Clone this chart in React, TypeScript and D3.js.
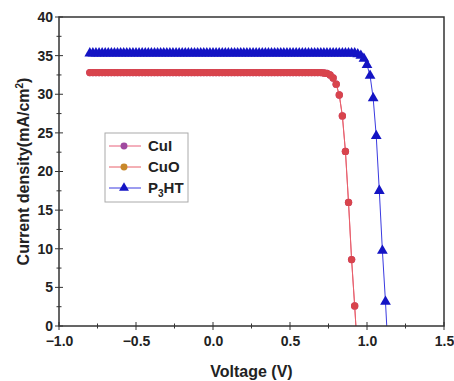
import * as d3 from 'd3';
import { useEffect, useRef } from 'react';

// sweep voltage (V), shared by all three cells
const voltage = [
  -0.80, -0.78, -0.76, -0.74, -0.72, -0.70, -0.68, -0.66, -0.64, -0.62,
  -0.60, -0.58, -0.56, -0.54, -0.52, -0.50, -0.48, -0.46, -0.44, -0.42,
  -0.40, -0.38, -0.36, -0.34, -0.32, -0.30, -0.28, -0.26, -0.24, -0.22,
  -0.20, -0.18, -0.16, -0.14, -0.12, -0.10, -0.08, -0.06, -0.04, -0.02,
  0.00, 0.02, 0.04, 0.06, 0.08, 0.10, 0.12, 0.14, 0.16, 0.18,
  0.20, 0.22, 0.24, 0.26, 0.28, 0.30, 0.32, 0.34, 0.36, 0.38,
  0.40, 0.42, 0.44, 0.46, 0.48, 0.50, 0.52, 0.54, 0.56, 0.58,
  0.60, 0.62, 0.64, 0.66, 0.68, 0.70, 0.72, 0.74, 0.76, 0.78,
  0.80, 0.82, 0.84, 0.86, 0.88, 0.90, 0.92, 0.94, 0.96, 0.98,
  1.00, 1.02, 1.04, 1.06, 1.08, 1.10, 1.12, 1.14,
];

// current density (mA/cm2)
const cuICurrent = [
  32.8, 32.8, 32.8, 32.8, 32.8, 32.8, 32.8, 32.8, 32.8, 32.8,
  32.8, 32.8, 32.8, 32.8, 32.8, 32.8, 32.8, 32.8, 32.8, 32.8,
  32.8, 32.8, 32.8, 32.8, 32.8, 32.8, 32.8, 32.8, 32.8, 32.8,
  32.8, 32.8, 32.8, 32.8, 32.8, 32.8, 32.8, 32.8, 32.8, 32.8,
  32.8, 32.8, 32.8, 32.8, 32.8, 32.8, 32.8, 32.8, 32.8, 32.8,
  32.8, 32.8, 32.8, 32.8, 32.8, 32.8, 32.8, 32.8, 32.8, 32.8,
  32.8, 32.8, 32.8, 32.8, 32.8, 32.8, 32.8, 32.8, 32.8, 32.8,
  32.8, 32.8, 32.8, 32.8, 32.8, 32.8, 32.75, 32.7, 32.5, 32.1,
  31.3, 29.9, 27.2, 22.6, 16.0, 8.6, 2.6, -4.0,
];
const cuOCurrent = [
  32.8, 32.8, 32.8, 32.8, 32.8, 32.8, 32.8, 32.8, 32.8, 32.8,
  32.8, 32.8, 32.8, 32.8, 32.8, 32.8, 32.8, 32.8, 32.8, 32.8,
  32.8, 32.8, 32.8, 32.8, 32.8, 32.8, 32.8, 32.8, 32.8, 32.8,
  32.8, 32.8, 32.8, 32.8, 32.8, 32.8, 32.8, 32.8, 32.8, 32.8,
  32.8, 32.8, 32.8, 32.8, 32.8, 32.8, 32.8, 32.8, 32.8, 32.8,
  32.8, 32.8, 32.8, 32.8, 32.8, 32.8, 32.8, 32.8, 32.8, 32.8,
  32.8, 32.8, 32.8, 32.8, 32.8, 32.8, 32.8, 32.8, 32.8, 32.8,
  32.8, 32.8, 32.8, 32.8, 32.8, 32.8, 32.75, 32.7, 32.5, 32.1,
  31.3, 29.9, 27.2, 22.6, 16.0, 8.6, 2.6, -4.0,
];
const p3htCurrent = [
  35.3, 35.3, 35.3, 35.3, 35.3, 35.3, 35.3, 35.3, 35.3, 35.3,
  35.3, 35.3, 35.3, 35.3, 35.3, 35.3, 35.3, 35.3, 35.3, 35.3,
  35.3, 35.3, 35.3, 35.3, 35.3, 35.3, 35.3, 35.3, 35.3, 35.3,
  35.3, 35.3, 35.3, 35.3, 35.3, 35.3, 35.3, 35.3, 35.3, 35.3,
  35.3, 35.3, 35.3, 35.3, 35.3, 35.3, 35.3, 35.3, 35.3, 35.3,
  35.3, 35.3, 35.3, 35.3, 35.3, 35.3, 35.3, 35.3, 35.3, 35.3,
  35.3, 35.3, 35.3, 35.3, 35.3, 35.3, 35.3, 35.3, 35.3, 35.3,
  35.3, 35.3, 35.3, 35.3, 35.3, 35.3, 35.3, 35.3, 35.3, 35.3,
  35.3, 35.3, 35.3, 35.3, 35.3, 35.3, 35.3, 35.2, 35.0, 34.6,
  33.8, 32.4, 29.5, 24.6, 17.5, 9.75, 3.15, -4.5,
];

const seriesNames = ['CuI', 'CuO', 'P3HT'];
const xTicks = [-1.0, -0.5, 0.0, 0.5, 1.0, 1.5];
const yTicks = [0, 5, 10, 15, 20, 25, 30, 35, 40];

const FONT = '"Liberation Sans", Arial, sans-serif';

const App = () => {
  const svgRef = useRef<SVGSVGElement>(null);

  useEffect(() => {
    const width = 454;
    const height = 381;
    const left = 59;
    const right = 444;
    const top = 17;
    const bottom = 326;
    const axisColor = '#333';

    const x = d3.scaleLinear([-1.0, 1.5], [left, right]);
    const y = d3.scaleLinear([0, 40], [bottom, top]);

    const svg = d3.select(svgRef.current);
    svg.selectAll('*').remove();
    svg.attr('width', width).attr('height', height);

    svg.append('rect').attr('width', width).attr('height', height).attr('fill', '#fff');

    svg.append('clipPath').attr('id', 'plot-clip')
      .append('rect')
      .attr('x', left).attr('y', top)
      .attr('width', right - left).attr('height', bottom - top);

    const series = [
      { name: seriesNames[0], values: cuICurrent, line: '#e8607a', fill: '#b8408a', shape: 'circle' },
      { name: seriesNames[1], values: cuOCurrent, line: '#e8606a', fill: '#d8444c', shape: 'circle' },
      { name: seriesNames[2], values: p3htCurrent, line: '#3a3ae0', fill: '#1414c4', shape: 'triangle' },
    ];

    const plot = svg.append('g').attr('clip-path', 'url(#plot-clip)');
    const line = d3.line<number>()
      .x((_, i) => x(voltage[i]))
      .y((d) => y(d));

    series.forEach((s) => {
      plot.append('path')
        .attr('fill', 'none')
        .attr('stroke', s.line)
        .attr('stroke-width', 1)
        .attr('d', line(s.values));
      const sym = d3.symbol()
        .type(s.shape === 'triangle' ? d3.symbolTriangle : d3.symbolCircle)
        .size(s.shape === 'triangle' ? 50 : 42);
      plot.append('g')
        .selectAll('path')
        .data(s.values)
        .join('path')
        .attr('transform', (d, i) => `translate(${x(voltage[i])},${y(d)})`)
        .attr('d', sym())
        .attr('fill', s.fill);
    });

    // frame
    svg.append('rect')
      .attr('x', left).attr('y', top)
      .attr('width', right - left).attr('height', bottom - top)
      .attr('fill', 'none')
      .attr('stroke', axisColor)
      .attr('stroke-width', 1.5);

    // x axis
    const xAxis = svg.append('g').attr('transform', `translate(0,${bottom})`);
    xAxis.call(d3.axisBottom(x).tickValues(xTicks).tickSize(0).tickFormat(d3.format('.1f')))
      .call((g) => g.select('.domain').remove())
      .call((g) => g.selectAll('.tick text')
        .attr('y', 10)
        .attr('font-size', 14)
        .attr('font-weight', 'bold')
        .attr('font-family', FONT)
        .attr('fill', '#222'));
    d3.range(-1.0, 1.51, 0.25).forEach((v) => {
      const major = Math.abs(v * 2 - Math.round(v * 2)) < 1e-6;
      xAxis.append('line')
        .attr('x1', x(v)).attr('x2', x(v))
        .attr('y1', major ? -4 : -2.5).attr('y2', major ? 4 : 2.5)
        .attr('stroke', axisColor).attr('stroke-width', 1);
    });

    // y axis
    const yAxis = svg.append('g').attr('transform', `translate(${left},0)`);
    yAxis.call(d3.axisLeft(y).tickValues(yTicks).tickSize(0))
      .call((g) => g.select('.domain').remove())
      .call((g) => g.selectAll('.tick text')
        .attr('x', -6)
        .attr('font-size', 14)
        .attr('font-weight', 'bold')
        .attr('font-family', FONT)
        .attr('fill', '#222'));
    d3.range(0, 40.1, 2.5).forEach((v) => {
      const major = v % 5 === 0;
      yAxis.append('line')
        .attr('y1', y(v)).attr('y2', y(v))
        .attr('x1', major ? -4 : -2.5).attr('x2', major ? 4 : 2.5)
        .attr('stroke', axisColor).attr('stroke-width', 1);
    });

    // axis titles
    svg.append('text')
      .attr('x', (left + right) / 2)
      .attr('y', 377)
      .attr('text-anchor', 'middle')
      .attr('font-size', 16)
      .attr('font-weight', 'bold')
      .attr('font-family', FONT)
      .attr('fill', '#222')
      .text('Voltage (V)');

    const yTitle = svg.append('text')
      .attr('transform', `translate(29,${(top + bottom) / 2}) rotate(-90)`)
      .attr('text-anchor', 'middle')
      .attr('font-size', 16)
      .attr('font-weight', 'bold')
      .attr('font-family', FONT)
      .attr('fill', '#222');
    yTitle.append('tspan').text('Current density(mA/cm');
    yTitle.append('tspan').attr('font-size', 10).attr('dy', -6).text('2');
    yTitle.append('tspan').attr('dy', 6).text(')');

    // legend
    const legend = svg.append('g').attr('transform', 'translate(105,133)');
    legend.append('rect')
      .attr('width', 83).attr('height', 69)
      .attr('fill', '#fff')
      .attr('stroke', '#aaa')
      .attr('stroke-width', 1);
    const legendFills = ['#a04aa0', '#c8882a', '#1414c4'];
    series.forEach((s, i) => {
      const ly = 13 + i * 21;
      legend.append('line')
        .attr('x1', 4).attr('x2', 36)
        .attr('y1', ly).attr('y2', ly)
        .attr('stroke', s.line).attr('stroke-width', 1);
      legend.append('path')
        .attr('transform', `translate(19,${ly})`)
        .attr('d', d3.symbol()
          .type(s.shape === 'triangle' ? d3.symbolTriangle : d3.symbolCircle)
          .size(s.shape === 'triangle' ? 42 : 38)())
        .attr('fill', legendFills[i]);
      const t = legend.append('text')
        .attr('x', 43).attr('y', ly + 5)
        .attr('font-size', 15)
        .attr('font-weight', 'bold')
        .attr('font-family', FONT)
        .attr('fill', '#222');
      if (s.name === 'P3HT') {
        t.append('tspan').text('P');
        t.append('tspan').attr('font-size', 10).attr('dy', 4).text('3');
        t.append('tspan').attr('dy', -4).text('HT');
      } else {
        t.text(s.name);
      }
    });
  }, []);

  return <svg ref={svgRef} style={{ position: 'absolute', left: 0, top: 0 }} />;
};

export default App;
